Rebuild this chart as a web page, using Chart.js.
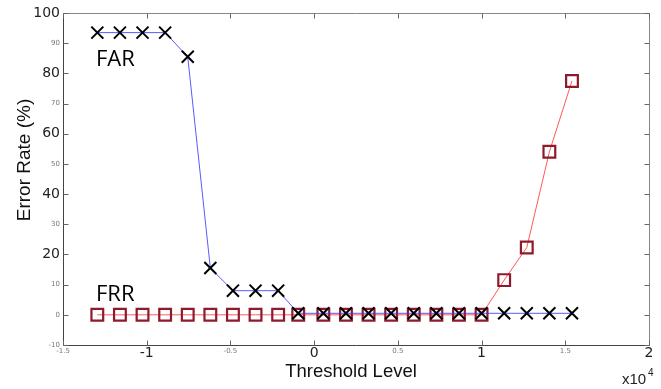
<!DOCTYPE html>
<html>
<head>
<meta charset="utf-8">
<script src="https://cdn.jsdelivr.net/npm/chart.js@4"></script>
<style>
  html, body { margin: 0; padding: 0; background: #fff; }
  #wrap { width: 661px; height: 389px; }
</style>
</head>
<body>
<div id="wrap"><canvas id="errChart" width="661" height="389"></canvas></div>
<script>
// threshold levels (x10^4)
const thresholds = [-1.295, -1.16, -1.025, -0.89, -0.755, -0.62, -0.485, -0.35, -0.215, -0.095, 0.055,
    0.19, 0.325, 0.46, 0.595, 0.73, 0.865, 1.0, 1.135, 1.27, 1.405, 1.54];
// false acceptance rate (%)
const farValues = [93.5, 93.5, 93.5, 93.5, 85.5, 15.5, 8, 8, 8, 0.5, 0.5,
    0.5, 0.5, 0.5, 0.5, 0.5, 0.5, 0.5, 0.5, 0.5, 0.5, 0.5];
// false rejection rate (%)
const frrValues = [0, 0, 0, 0, 0, 0, 0, 0, 0, 0, 0,
    0, 0, 0, 0, 0, 0, 0, 11.5, 22.3, 54, 77.5];
const xTickLabels = ["-1.5", "-1", "-0.5", "0", "0.5", "1", "1.5", "2"];
const bigYTicks = [100, 80, 60, 40, 20];
const bigXTicks = [-1, 0, 1, 2];

const canvas = document.getElementById("errChart");
const ctx = canvas.getContext("2d");

function isBig(c, list) {
    return !!(c && c.tick && list.includes(c.tick.value));
}

// frame, inward ticks and free text (MATLAB style)
const matlabFrame = {
    id: "matlabFrame",
    afterDraw(chart) {
        const c = chart.ctx;
        const a = chart.chartArea;
        const xs = chart.scales.x;
        const ys = chart.scales.y;
        const l = Math.round(a.left) + 0.5, r = Math.round(a.right) + 0.5;
        const t = Math.round(a.top) + 0.5, b = Math.round(a.bottom) + 0.5;
        c.save();
        c.lineWidth = 1;
        // top / right lighter
        c.strokeStyle = "#888";
        c.beginPath();
        c.moveTo(l, t); c.lineTo(r, t); c.lineTo(r, b);
        c.stroke();
        // left / bottom darker
        c.strokeStyle = "#444";
        c.beginPath();
        c.moveTo(l, t); c.lineTo(l, b); c.lineTo(r, b);
        c.stroke();

        c.strokeStyle = "#666";
        c.beginPath();
        xs.ticks.forEach(tk => {
            const px = Math.round(xs.getPixelForValue(tk.value)) + 0.5;
            c.moveTo(px, b); c.lineTo(px, b - 5);
            c.moveTo(px, t); c.lineTo(px, t + 5);
        });
        ys.ticks.forEach(tk => {
            const py = Math.round(ys.getPixelForValue(tk.value)) + 0.5;
            c.moveTo(l, py); c.lineTo(l + 5, py);
            c.moveTo(r, py); c.lineTo(r - 5, py);
        });
        c.stroke();

        c.fillStyle = "#111";
        c.textAlign = "center";
        c.textBaseline = "middle";
        c.font = "18.5px 'Liberation Sans', Arial, sans-serif";
        c.fillText("Threshold Level", 351, 372);
        c.save();
        c.translate(25, 160);
        c.rotate(-Math.PI / 2);
        c.font = "19px 'Liberation Sans', Arial, sans-serif";
        c.fillText("Error Rate (%)", 0, 0);
        c.restore();

        c.textAlign = "left";
        c.textBaseline = "alphabetic";
        c.fillStyle = "#000";
        c.font = "22px 'Open Sans', sans-serif";
        c.fillText("FAR", 96, 66);
        c.fillText("FRR", 96, 301);

        c.fillStyle = "#222";
        c.font = "15px 'Liberation Sans', Arial, sans-serif";
        c.fillText("x10", 622, 384);
        c.font = "10px 'Liberation Sans', Arial, sans-serif";
        c.fillText("4", 648, 376);
        c.restore();
    }
};

const farData = thresholds.map((x, i) => ({ x: x, y: farValues[i] }));
const frrData = thresholds.map((x, i) => ({ x: x, y: frrValues[i] }));

window.myChart = new Chart(ctx, {
    type: "line",
    data: {
        datasets: [
            {
                label: "FAR",
                data: farData,
                borderColor: "rgba(60, 60, 255, 0.85)",
                borderWidth: 1,
                pointStyle: "crossRot",
                pointRadius: 8.5,
                pointBorderWidth: 2,
                pointBorderColor: "#000",
                pointBackgroundColor: "#000",
                tension: 0,
                fill: false,
            },
            {
                label: "FRR",
                data: frrData,
                borderColor: "rgba(255, 60, 60, 0.85)",
                borderWidth: 1,
                pointStyle: "rect",
                pointRadius: 8.3,
                pointBorderWidth: 2.2,
                pointBorderColor: "#8e1a2c",
                pointBackgroundColor: "rgba(0,0,0,0)",
                tension: 0,
                fill: false,
            },
        ],
    },
    options: {
        responsive: false,
        animation: false,
        layout: { padding: { left: 0, top: 13, right: 12, bottom: 0 } },
        plugins: {
            legend: { display: false },
            tooltip: { enabled: false },
        },
        scales: {
            x: {
                type: "linear",
                min: -1.5,
                max: 2,
                grid: { display: false, drawTicks: false },
                border: { display: false },
                afterFit: s => { s.height = 44; },
                afterBuildTicks: s => {
                    s.ticks = xTickLabels.map(l => ({ value: parseFloat(l) }));
                },
                ticks: {
                    padding: 0,
                    maxRotation: 0,
                    autoSkip: false,
                    callback: v => String(v),
                    color: c => isBig(c, bigXTicks) ? "#222" : "#777",
                    font: c => isBig(c, bigXTicks)
                        ? { family: "'DejaVu Sans'", size: 14, lineHeight: "16px" }
                        : { family: "'DejaVu Sans'", size: 7, lineHeight: "12px" },
                },
            },
            y: {
                min: -10,
                max: 100,
                grid: { display: false, drawTicks: false },
                border: { display: false },
                afterFit: s => { s.width = 63; },
                ticks: {
                    stepSize: 10,
                    padding: 3,
                    callback: v => String(v),
                    color: c => isBig(c, bigYTicks) ? "#222" : "#777",
                    font: c => isBig(c, bigYTicks)
                        ? { family: "'DejaVu Sans'", size: 14 }
                        : { family: "'DejaVu Sans'", size: 7 },
                },
            },
        },
    },
    plugins: [matlabFrame],
});
</script>
</body>
</html>
